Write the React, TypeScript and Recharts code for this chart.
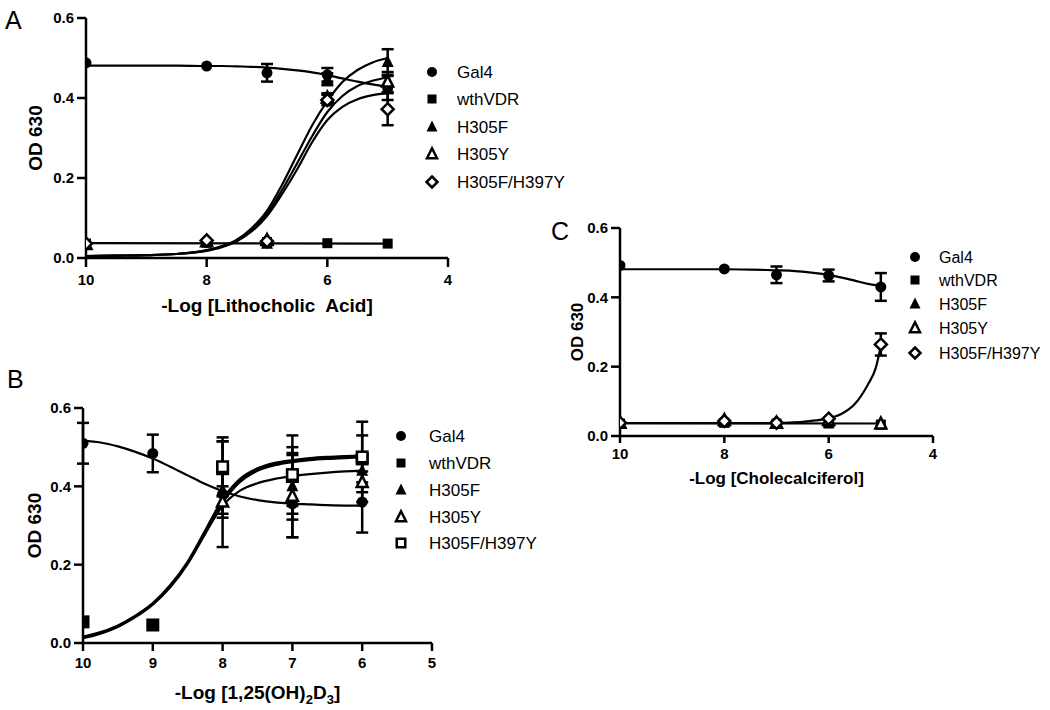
import React from 'react';
import { ComposedChart, XAxis, YAxis, Line, Scatter, ErrorBar, Label } from 'recharts';

const FONT = '"Liberation Sans", Arial, Helvetica, sans-serif';

// ---------- Legend names ----------
const namesA = ['Gal4', 'wthVDR', 'H305F', 'H305Y', 'H305F/H397Y'];
const namesB = ['Gal4', 'wthVDR', 'H305F', 'H305Y', 'H305F/H397Y'];
const namesC = ['Gal4', 'wthVDR', 'H305F', 'H305Y', 'H305F/H397Y'];

// ---------- Panel A : Lithocholic Acid ----------
const aX = [10, 8, 7, 6, 5];
const aGal4 = [0.488, 0.48, 0.463, 0.458, 0.425];
const aGal4Err = [0, 0, 0.022, 0.017, 0.03];
const aWth = [0.036, 0.038, 0.04, 0.037, 0.036];
const aWthErr = [0, 0, 0, 0, 0];
const aH305F = [0.035, 0.04, 0.036, 0.447, 0.49];
const aH305FErr = [0, 0, 0, 0.015, 0.032];
const aH305Y = [0.034, 0.041, 0.044, 0.4, 0.44];
const aH305YErr = [0, 0, 0, 0.012, 0.025];
const aDbl = [0.036, 0.044, 0.042, 0.395, 0.372];
const aDblErr = [0, 0, 0, 0.013, 0.04];

const aFitX = [10, 9.5, 9, 8.5, 8, 7.75, 7.5, 7.25, 7, 6.75, 6.5, 6.25, 6, 5.75, 5.5, 5.25, 5];
const aGal4Fit = [0.481, 0.481, 0.481, 0.481, 0.48, 0.48, 0.479, 0.478, 0.476, 0.473, 0.469, 0.464, 0.457, 0.449, 0.441, 0.434, 0.428];
const aH305FFit = [0.005, 0.006, 0.007, 0.01, 0.02, 0.03, 0.046, 0.075, 0.118, 0.183, 0.258, 0.332, 0.392, 0.44, 0.47, 0.489, 0.5];
const aH305YFit = [0.005, 0.006, 0.007, 0.01, 0.019, 0.028, 0.043, 0.07, 0.11, 0.17, 0.237, 0.305, 0.365, 0.405, 0.43, 0.443, 0.452];
const aDblFit = [0.005, 0.006, 0.007, 0.01, 0.018, 0.027, 0.042, 0.067, 0.105, 0.16, 0.222, 0.29, 0.345, 0.378, 0.397, 0.407, 0.412];
const aFlatX = [10, 5];
const aWthFit = [0.037, 0.036];

// ---------- Panel B : 1,25(OH)2D3 ----------
const bX = [10, 9, 8, 7, 6];
const bGal4 = [0.51, 0.484, 0.38, 0.355, 0.36];
const bGal4Err = [0.052, 0.048, 0.135, 0.085, 0.078];
const bWth = [0.054, 0.046, 0.445, 0.425, 0.47];
const bWthErr = [0, 0, 0.07, 0.075, 0.06];
const bH305F = [null, null, 0.39, 0.4, 0.44];
const bH305FErr = [0, 0, 0.06, 0.085, 0.04];
const bH305Y = [null, null, 0.36, 0.375, 0.41];
const bH305YErr = [0, 0, 0.04, 0.105, 0.05];
const bDbl = [null, null, 0.45, 0.43, 0.475];
const bDblErr = [0, 0, 0.075, 0.1, 0.09];

const bFitX = [10, 9.75, 9.5, 9.25, 9, 8.75, 8.5, 8.25, 8, 7.75, 7.5, 7.25, 7, 6.75, 6.5, 6.25, 6];
const bGal4Fit = [0.516, 0.512, 0.502, 0.488, 0.471, 0.45, 0.428, 0.406, 0.388, 0.374, 0.365, 0.359, 0.356, 0.354, 0.352, 0.351, 0.351];
const bWthFit = [0.014, 0.026, 0.043, 0.068, 0.1, 0.145, 0.205, 0.283, 0.362, 0.415, 0.443, 0.457, 0.465, 0.47, 0.473, 0.475, 0.477];
const bH305FFit = [0.014, 0.026, 0.043, 0.068, 0.1, 0.145, 0.204, 0.279, 0.35, 0.389, 0.408, 0.419, 0.426, 0.431, 0.435, 0.438, 0.44];
const bH305YFit = [0.016, 0.028, 0.045, 0.07, 0.102, 0.148, 0.208, 0.287, 0.367, 0.419, 0.446, 0.46, 0.467, 0.472, 0.475, 0.477, 0.479];
const bDblFit = [0.012, 0.024, 0.041, 0.066, 0.098, 0.142, 0.202, 0.279, 0.358, 0.411, 0.44, 0.454, 0.462, 0.467, 0.47, 0.472, 0.474];

// ---------- Panel C : Cholecalciferol ----------
const cX = [10, 8, 7, 6, 5];
const cGal4 = [0.492, 0.482, 0.465, 0.463, 0.43];
const cGal4Err = [0, 0, 0.024, 0.017, 0.04];
const cWth = [0.036, 0.038, 0.036, 0.036, 0.033];
const cH305F = [0.035, 0.04, 0.035, 0.038, 0.034];
const cH305Y = [0.037, 0.045, 0.037, 0.045, 0.035];
const cDbl = [0.038, 0.043, 0.038, 0.05, 0.264];
const cDblErr = [0, 0, 0, 0, 0.032];
const cNoErr = [0, 0, 0, 0, 0];

const cFitX = [10, 9, 8, 7.5, 7, 6.75, 6.5, 6.25, 6, 5.75, 5.5, 5.25, 5.1, 5];
const cGal4Fit = [0.481, 0.481, 0.481, 0.48, 0.478, 0.477, 0.474, 0.47, 0.465, 0.457, 0.448, 0.439, 0.435, 0.432];
const cDblFit = [0.037, 0.037, 0.037, 0.037, 0.038, 0.039, 0.041, 0.045, 0.051, 0.064, 0.092, 0.148, 0.195, 0.26];
const cFlatX = [10, 5];
const cFlatFit = [0.037, 0.036];

const yTicks = [0, 0.2, 0.4, 0.6];

// ---------- helpers ----------
const pts = (xs: number[], ys: (number | null)[], errs: number[]) =>
  xs.map((x, i) => ({ x, y: ys[i], err: errs[i] })).filter((p) => p.y !== null);
const fit = (xs: number[], ys: number[]) => xs.map((x, i) => ({ x, y: ys[i] }));

type Kind = 'circle' | 'square' | 'squareOpen' | 'triangle' | 'triangleOpen' | 'diamond';

function Marker({ cx, cy, kind, size }: { cx?: number; cy?: number; kind: Kind; size: number }) {
  if (cx == null || cy == null || isNaN(cx) || isNaN(cy)) return <g />;
  const s = size;
  switch (kind) {
    case 'circle':
      return <circle cx={cx} cy={cy} r={s / 2} fill="#000" />;
    case 'square':
      return <rect x={cx - s / 2} y={cy - s / 2} width={s} height={s} fill="#000" />;
    case 'squareOpen':
      return (
        <rect x={cx - s / 2 + 1.25} y={cy - s / 2 + 1.25} width={s - 2.5} height={s - 2.5} fill="#fff" stroke="#000" strokeWidth={2.5} />
      );
    case 'triangle':
      return (
        <polygon points={`${cx},${cy - s * 0.58} ${cx - s / 2},${cy + s * 0.42} ${cx + s / 2},${cy + s * 0.42}`} fill="#000" />
      );
    case 'triangleOpen': {
      const t = s - 2;
      return (
        <polygon
          points={`${cx},${cy - t * 0.58} ${cx - t / 2},${cy + t * 0.42} ${cx + t / 2},${cy + t * 0.42}`}
          fill="#fff"
          stroke="#000"
          strokeWidth={2.5}
          strokeLinejoin="miter"
        />
      );
    }
    case 'diamond': {
      const h = s / 2 - 1;
      return (
        <polygon points={`${cx},${cy - h} ${cx + h},${cy} ${cx},${cy + h} ${cx - h},${cy}`} fill="#fff" stroke="#000" strokeWidth={2.5} />
      );
    }
  }
  return <g />;
}

const EmptyShape = () => <g />;

const axisStroke = { stroke: '#000', strokeWidth: 2.5 };
const TICK_FONT = 15;

function XTick(props: any) {
  const { x, y, payload } = props;
  return (
    <text x={x} y={y} dy="0.71em" textAnchor="middle" fill="#000" fontSize={TICK_FONT} fontWeight={700} fontFamily={FONT}>
      {String(payload.value)}
    </text>
  );
}

function YTick(props: any) {
  const { x, y, payload } = props;
  return (
    <text x={x} y={y} dy="0.355em" textAnchor="end" fill="#000" fontSize={TICK_FONT} fontWeight={700} fontFamily={FONT}>
      {Number(payload.value).toFixed(1)}
    </text>
  );
}

type Series = { points: { x: number; y: number | null; err: number }[]; kind: Kind; size: number };

function Panel(props: any) {
  const { left, top, width, height, margin, yWidth, xHeight, xDomain, xTicks, yLabelOffset, yLabelSize, xTitle, tickSizeX, tickMarginX, fits, series } = props;
  return (
    <div style={{ position: 'absolute', left, top, width, height }}>
      <ComposedChart width={width} height={height} margin={margin}>
        <XAxis
          type="number"
          dataKey="x"
          domain={xDomain}
          ticks={xTicks}
          reversed
          interval={0}
          height={xHeight}
          allowDataOverflow
          stroke="#000"
          strokeWidth={2.5}
          axisLine={axisStroke}
          tickLine={axisStroke}
          tickSize={tickSizeX}
          tickMargin={tickMarginX}
          tick={<XTick />}
        >
          {xTitle}
        </XAxis>
        <YAxis
          type="number"
          domain={[0, 0.6]}
          ticks={yTicks}
          interval={0}
          width={yWidth}
          allowDataOverflow
          stroke="#000"
          strokeWidth={2.5}
          axisLine={axisStroke}
          tickLine={axisStroke}
          tickSize={9}
          tickMargin={3}
          tick={<YTick />}
        >
          <Label
            value="OD 630"
            angle={-90}
            position="insideLeft"
            offset={yLabelOffset}
            fill="#000"
            fontSize={yLabelSize}
            fontWeight={700}
            fontFamily={FONT}
            style={{ textAnchor: 'middle' }}
          />
        </YAxis>
        {fits.map((f: any, i: number) => (
          <Line
            key={'fit' + i}
            data={f}
            dataKey="y"
            type="monotone"
            stroke="#000"
            strokeWidth={2.2}
            dot={false}
            activeDot={false}
            isAnimationActive={false}
          />
        ))}
        {series.map((s: Series, i: number) => {
          const ep = s.points.filter((p) => p.err > 0);
          if (!ep.length) return null;
          return (
            <Scatter key={'err' + i} data={ep} dataKey="y" shape={EmptyShape} isAnimationActive={false}>
              <ErrorBar dataKey="err" direction="y" width={6} stroke="#000" strokeWidth={2.5} />
            </Scatter>
          );
        })}
        {series.map((s: Series, i: number) => (
          <Scatter
            key={'pts' + i}
            data={s.points}
            dataKey="y"
            isAnimationActive={false}
            shape={(p: any) => <Marker cx={p.cx} cy={p.cy} kind={s.kind} size={s.size} />}
          />
        ))}
      </ComposedChart>
    </div>
  );
}

function LegendBlock({ mx, tx, ys, names, kinds, fontSize }: any) {
  const sizes: Record<string, number> = { circle: 10, square: 9, squareOpen: 11, triangle: 11, triangleOpen: 12, diamond: 13 };
  return (
    <g>
      {names.map((n: string, i: number) => (
        <g key={n + i}>
          <Marker cx={mx} cy={ys[i]} kind={kinds[i]} size={sizes[kinds[i]]} />
          <text x={tx} y={ys[i]} dominantBaseline="central" fontSize={fontSize} fontFamily={FONT} fill="#000">
            {n}
          </text>
        </g>
      ))}
    </g>
  );
}

const kindsAC: Kind[] = ['circle', 'square', 'triangle', 'triangleOpen', 'diamond'];
const kindsB: Kind[] = ['circle', 'square', 'triangle', 'triangleOpen', 'squareOpen'];

function BTitle(props: any) {
  const vb = props.viewBox || { x: 83, y: 263, width: 349, height: 67 };
  return (
    <text x={vb.x + vb.width / 2} y={vb.y + 56} textAnchor="middle" fill="#000" fontSize={19} fontWeight={700} fontFamily={FONT}>
      -Log [1,25(OH)
      <tspan dy={5} fontSize={13}>2</tspan>
      <tspan dy={-5}>D</tspan>
      <tspan dy={5} fontSize={13}>3</tspan>
      <tspan dy={-5}>]</tspan>
    </text>
  );
}

export default function App() {
  const seriesA: Series[] = [
    { points: pts(aX, aGal4, aGal4Err), kind: 'circle', size: 11 },
    { points: pts(aX, aWth, aWthErr), kind: 'square', size: 10 },
    { points: pts(aX, aH305F, aH305FErr), kind: 'triangle', size: 12 },
    { points: pts(aX, aH305Y, aH305YErr), kind: 'triangleOpen', size: 13 },
    { points: pts(aX, aDbl, aDblErr), kind: 'diamond', size: 14 },
  ];
  const fitsA = [fit(aFitX, aGal4Fit), fit(aFlatX, aWthFit), fit(aFitX, aH305FFit), fit(aFitX, aH305YFit), fit(aFitX, aDblFit)];

  const seriesB: Series[] = [
    { points: pts(bX, bGal4, bGal4Err), kind: 'circle', size: 11 },
    { points: pts(bX, bWth, bWthErr), kind: 'square', size: 13 },
    { points: pts(bX, bH305F, bH305FErr), kind: 'triangle', size: 12 },
    { points: pts(bX, bH305Y, bH305YErr), kind: 'triangleOpen', size: 13 },
    { points: pts(bX, bDbl, bDblErr), kind: 'squareOpen', size: 13 },
  ];
  const fitsB = [fit(bFitX, bGal4Fit), fit(bFitX, bWthFit), fit(bFitX, bH305FFit), fit(bFitX, bH305YFit), fit(bFitX, bDblFit)];

  const seriesC: Series[] = [
    { points: pts(cX, cGal4, cGal4Err), kind: 'circle', size: 11 },
    { points: pts(cX, cWth, cNoErr), kind: 'square', size: 10 },
    { points: pts(cX, cH305F, cNoErr), kind: 'triangle', size: 12 },
    { points: pts(cX, cH305Y, cNoErr), kind: 'triangleOpen', size: 13 },
    { points: pts(cX, cDbl, cDblErr), kind: 'diamond', size: 14 },
  ];
  const fitsC = [fit(cFitX, cGal4Fit), fit(cFlatX, cFlatFit), fit(cFitX, cDblFit)];

  return (
    <div style={{ position: 'absolute', left: 0, top: 0, width: 1050, height: 710, background: '#fff', overflow: 'hidden' }}>
      <Panel
        left={0}
        top={0}
        width={460}
        height={320}
        margin={{ top: 18, right: 12, left: 0, bottom: 0 }}
        yWidth={86}
        xHeight={62}
        xDomain={[4, 10]}
        xTicks={[10, 8, 6, 4]}
        yLabelOffset={35.5}
        yLabelSize={19}
        tickSizeX={9}
        tickMarginX={7}
        xTitle={
          <Label
            value={'-Log [Lithocholic\u00a0 Acid]'}
            position="insideBottom"
            offset={8}
            fill="#000"
            fontSize={19}
            fontWeight={700}
            fontFamily={FONT}
          />
        }
        fits={fitsA}
        series={seriesA}
      />
      <Panel
        left={0}
        top={380}
        width={445}
        height={330}
        margin={{ top: 28, right: 13, left: 0, bottom: 0 }}
        yWidth={83}
        xHeight={67}
        xDomain={[5, 10]}
        xTicks={[10, 9, 8, 7, 6, 5]}
        yLabelOffset={34}
        yLabelSize={19}
        tickSizeX={8}
        tickMarginX={6}
        xTitle={<Label content={BTitle} />}
        fits={fitsB}
        series={seriesB}
      />
      <Panel
        left={540}
        top={200}
        width={405}
        height={290}
        margin={{ top: 28, right: 12, left: 0, bottom: 0 }}
        yWidth={80}
        xHeight={54}
        xDomain={[4, 10]}
        xTicks={[10, 8, 6, 4]}
        yLabelOffset={36.5}
        yLabelSize={17}
        tickSizeX={7}
        tickMarginX={5}
        xTitle={
          <Label value="-Log [Cholecalciferol]" position="insideBottom" offset={6.5} fill="#000" fontSize={17} fontWeight={700} fontFamily={FONT} />
        }
        fits={fitsC}
        series={seriesC}
      />
      <svg width={1050} height={710} style={{ position: 'absolute', left: 0, top: 0, pointerEvents: 'none' }}>
        <text x={5} y={29} fontSize={25} fontFamily={FONT} fill="#000">A</text>
        <text x={7} y={388} fontSize={25} fontFamily={FONT} fill="#000">B</text>
        <text x={551} y={240} fontSize={25} fontFamily={FONT} fill="#000">C</text>
        <LegendBlock mx={432} tx={457} ys={[72, 99, 127, 154, 182]} names={namesA} kinds={kindsAC} fontSize={17} />
        <LegendBlock mx={401} tx={429} ys={[436, 463, 490, 517, 543]} names={namesB} kinds={kindsB} fontSize={17} />
        <LegendBlock mx={915} tx={939} ys={[257, 280, 304, 328, 353]} names={namesC} kinds={kindsAC} fontSize={16} />
      </svg>
    </div>
  );
}
